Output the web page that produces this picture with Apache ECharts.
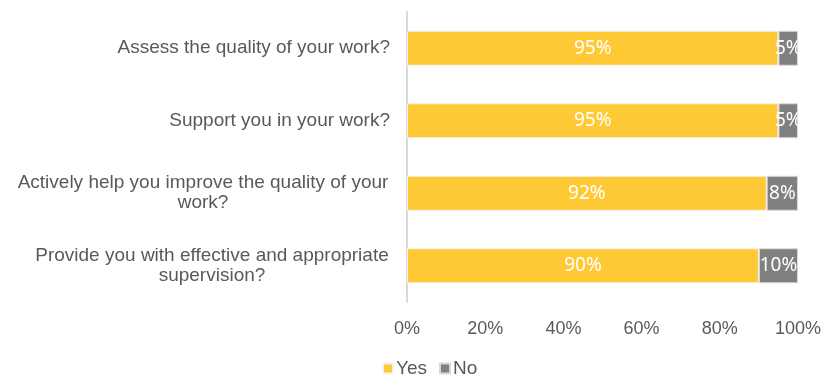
<!DOCTYPE html>
<html><head><meta charset="utf-8">
<script src="https://cdn.jsdelivr.net/npm/echarts@6/dist/echarts.min.js"></script>
<style>html,body{margin:0;padding:0;background:#fff}#c{width:824px;height:376px}</style>
</head><body><div id="c"></div>
<script>
const categories = [
  "Assess the quality of your work?",
  "Support you in your work?",
  "Actively help you improve the quality of your\nwork?",
  "Provide you with effective and appropriate\nsupervision?"
];
const yesValues = [95, 95, 92, 90];
const noValues = [5, 5, 8, 10];
const xTicks = [0, 20, 40, 60, 80, 100];

const font = 'Liberation Sans, Arial, sans-serif';
const labelFont = 'Noto Sans, sans-serif';
const chart = echarts.init(document.getElementById('c'));
chart.setOption({
  animation: false,
  grid: {left: 407, right: 24, top: 12, bottom: 74, containLabel: false},
  legend: {
    top: 354, left: 377, itemWidth: 10, itemHeight: 10, itemGap: 12,
    icon: 'rect',
    textStyle: {fontFamily: font, fontSize: 19, color: '#595959', padding: [0,0,0,-2]},
    data: ['Yes', 'No']
  },
  xAxis: {
    type: 'value', min: 0, max: 100, interval: 20,
    splitLine: {show: false}, axisLine: {show: false}, axisTick: {show: false},
    axisLabel: {formatter: v => xTicks.includes(v) ? v + '%' : '', fontFamily: font, fontSize: 18, color: '#595959', margin: 18}
  },
  yAxis: {
    type: 'category', inverse: true, data: categories,
    axisLine: {show: true, lineStyle: {color: '#d9d9d9', width: 2}},
    axisTick: {show: false},
    axisLabel: {
      fontFamily: font, fontSize: 19, color: '#595959', margin: 17, lineHeight: 20,
      formatter: function (v) {
        const parts = v.split('\n');
        if (parts.length === 1) return v;
        const key = parts[0].length > 43 ? 'a' : 'b';
        return parts.map(p => '{' + key + '|' + p + '}').join('\n');
      },
      rich: {
        a: {width: 374, align: 'center', fontFamily: font, fontSize: 19, color: '#595959', lineHeight: 20},
        b: {width: 356, align: 'center', fontFamily: font, fontSize: 19, color: '#595959', lineHeight: 20}
      }
    }
  },
  series: [
    {
      name: 'Yes', type: 'bar', stack: 't', data: yesValues, barWidth: 35,
      itemStyle: {color: '#FFC936', borderColor: '#f2f2f2', borderWidth: 1},
      label: {show: true, position: 'inside', formatter: '{c}%', color: '#fff', fontFamily: labelFont, fontSize: 19}
    },
    {
      name: 'No', type: 'bar', stack: 't', data: noValues, barWidth: 35,
      itemStyle: {color: '#808080', borderColor: '#d9d9d9', borderWidth: 1},
      label: {show: true, position: 'inside', formatter: '{c}%', color: '#fff', fontFamily: labelFont, fontSize: 19}
    }
  ]
});
</script></body></html>
